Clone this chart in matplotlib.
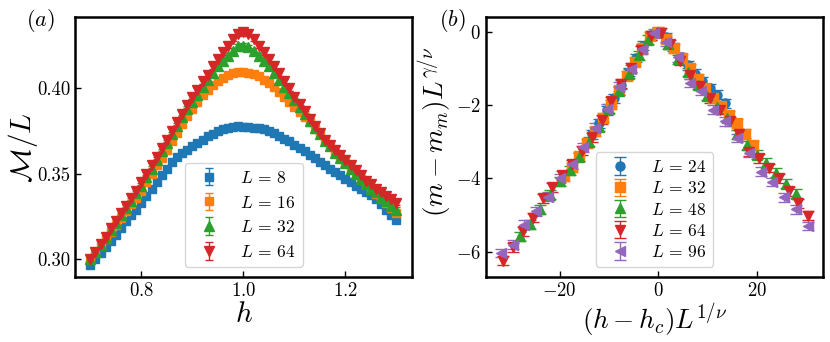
import matplotlib
matplotlib.use("Agg")
import matplotlib.pyplot as plt

plt.rcParams["font.family"] = "serif"
plt.rcParams["font.serif"] = ["cmr10", "DejaVu Serif"]
plt.rcParams["mathtext.fontset"] = "cm"
plt.rcParams["axes.formatter.use_mathtext"] = True
plt.rcParams["axes.unicode_minus"] = True

# ---------------- panel (a): M/L vs h ----------------
h = [0.70, 0.71, 0.72, 0.73, 0.74, 0.75, 0.76, 0.77, 0.78, 0.79,
     0.80, 0.81, 0.82, 0.83, 0.84, 0.85, 0.86, 0.87, 0.88, 0.89,
     0.90, 0.91, 0.92, 0.93, 0.94, 0.95, 0.96, 0.97, 0.98, 0.99,
     1.00, 1.01, 1.02, 1.03, 1.04, 1.05, 1.06, 1.07, 1.08, 1.09,
     1.10, 1.11, 1.12, 1.13, 1.14, 1.15, 1.16, 1.17, 1.18, 1.19,
     1.20, 1.21, 1.22, 1.23, 1.24, 1.25, 1.26, 1.27, 1.28, 1.29, 1.30]

m_L8 = [0.2965, 0.300, 0.3035, 0.307, 0.3105, 0.314, 0.318, 0.322, 0.3255, 0.329,
        0.333, 0.337, 0.341, 0.345, 0.349, 0.353, 0.357, 0.360, 0.362, 0.364,
        0.366, 0.368, 0.370, 0.372, 0.3735, 0.375, 0.376, 0.377, 0.3775, 0.378,
        0.3775, 0.3775, 0.377, 0.3765, 0.376, 0.375, 0.374, 0.372, 0.3705, 0.369,
        0.367, 0.365, 0.363, 0.361, 0.359, 0.357, 0.355, 0.353, 0.351, 0.349,
        0.347, 0.345, 0.343, 0.341, 0.3395, 0.3375, 0.335, 0.332, 0.329, 0.326, 0.323]

m_L16 = [0.300, 0.304, 0.308, 0.312, 0.316, 0.320, 0.324, 0.328, 0.332, 0.336,
         0.340, 0.345, 0.350, 0.355, 0.359, 0.364, 0.369, 0.374, 0.379, 0.384,
         0.388, 0.392, 0.396, 0.399, 0.402, 0.404, 0.406, 0.408, 0.409, 0.4095,
         0.4095, 0.409, 0.4085, 0.407, 0.405, 0.403, 0.401, 0.398, 0.395, 0.392,
         0.389, 0.386, 0.383, 0.380, 0.376, 0.373, 0.369, 0.366, 0.362, 0.359,
         0.356, 0.353, 0.350, 0.347, 0.344, 0.341, 0.338, 0.336, 0.333, 0.330, 0.327]

m_L32 = [0.300, 0.304, 0.308, 0.3125, 0.317, 0.321, 0.3255, 0.330, 0.334, 0.3385,
         0.343, 0.348, 0.353, 0.358, 0.363, 0.368, 0.373, 0.378, 0.383, 0.388,
         0.392, 0.396, 0.401, 0.405, 0.409, 0.413, 0.416, 0.419, 0.422, 0.4245,
         0.425, 0.424, 0.422, 0.419, 0.416, 0.413, 0.409, 0.405, 0.401, 0.397,
         0.393, 0.389, 0.385, 0.381, 0.377, 0.373, 0.369, 0.366, 0.362, 0.359,
         0.356, 0.353, 0.350, 0.347, 0.344, 0.341, 0.339, 0.336, 0.334, 0.331, 0.329]

m_L64 = [0.300, 0.304, 0.309, 0.313, 0.318, 0.322, 0.327, 0.331, 0.336, 0.340,
         0.345, 0.350, 0.355, 0.360, 0.365, 0.370, 0.375, 0.380, 0.385, 0.390,
         0.395, 0.399, 0.404, 0.408, 0.413, 0.417, 0.421, 0.425, 0.429, 0.432,
         0.433, 0.432, 0.429, 0.425, 0.421, 0.417, 0.413, 0.409, 0.404, 0.400,
         0.395, 0.391, 0.387, 0.382, 0.378, 0.374, 0.370, 0.367, 0.364, 0.361,
         0.358, 0.355, 0.352, 0.349, 0.346, 0.344, 0.341, 0.339, 0.337, 0.335, 0.333]

err_a = 0.0015

# ---------------- panel (b): data collapse ----------------
x_L24 = [-13.5, -12, -10.5, -9, -7.5, -6, -4.5, -3, -1.5, 0,
         1.5, 3, 4.5, 6, 7.5, 9, 10.5, 12, 13.5]
y_L24 = [-2.8, -2.5, -2.15, -1.82, -1.45, -1.1, -0.72, -0.38, -0.1, -0.02,
         -0.15, -0.42, -0.7, -0.92, -1.15, -1.35, -1.55, -1.72, -1.95]

x_L32 = [-19.2, -17.6, -16, -14.4, -12.8, -11.2, -9.6, -8, -6.4, -4.8, -3.2, -1.6, 0,
         1.6, 3.2, 4.8, 6.4, 8, 9.6, 11.2, 12.8, 14.4, 16, 17.6, 19.2]
y_L32 = [-3.95, -3.7, -3.4, -3.05, -2.72, -2.35, -1.98, -1.6, -1.2, -0.82, -0.45, -0.12, 0.0,
         -0.2, -0.45, -0.72, -1.0, -1.28, -1.55, -1.8, -2.02, -2.28, -2.5, -2.78, -3.1]

x_L48 = [-28, -26, -24, -22, -20, -18, -16, -14, -12, -10, -8, -6, -4, -2, 0,
         2, 4, 6, 8, 10, 12, 14, 16, 18, 20, 22, 24, 26, 28]
y_L48 = [-5.58, -5.25, -4.85, -4.45, -4.08, -3.78, -3.42, -3.0, -2.6, -2.1, -1.62, -1.15, -0.65, -0.22, -0.02,
         -0.35, -0.75, -1.1, -1.45, -1.75, -2.05, -2.35, -2.8, -3.1, -3.36, -3.58, -3.85, -4.15, -4.42]

x_L64 = [-31.5, -29.5, -27.5, -25.5, -23.5, -21.5, -19.5, -17.5, -15.5, -13.5, -11.5, -9.5, -7.5, -5.5, -3.5, -1.5,
         0.5, 2.5, 4.5, 6.5, 8.5, 10.5, 12.5, 14.5, 16.5, 18.5, 20.5, 22.5, 24.5, 26.5, 28.5, 30.5]
y_L64 = [-6.25, -5.88, -5.45, -5.08, -4.55, -4.25, -3.92, -3.62, -3.25, -2.88, -2.4, -1.9, -1.42, -0.98, -0.5, -0.12,
         -0.03, -0.35, -0.8, -1.18, -1.48, -1.82, -2.13, -2.45, -2.8, -3.27, -3.45, -3.72, -4.0, -4.35, -4.68, -5.02]

x_L96 = [-32, -29.6, -27.2, -24.8, -22.4, -20, -17.6, -15.2, -12.8, -10.4, -8, -5.6, -3.2, -0.8,
         1.6, 4, 6.4, 8.8, 11.2, 13.6, 16, 18.4, 20.8, 23.2, 25.6, 28, 30.4]
y_L96 = [-6.04, -5.81, -5.27, -4.9, -4.5, -4.0, -3.62, -3.15, -2.62, -2.1, -1.5, -1.02, -0.48, -0.05,
         -0.28, -0.7, -1.4, -1.62, -2.13, -2.45, -2.9, -3.3, -3.82, -4.1, -4.52, -4.85, -5.3]

err_b = 0.12

fig = plt.figure(figsize=(8.3, 3.42), dpi=100)
ax1 = fig.add_axes([0.0904, 0.1892, 0.4063, 0.7602])
ax2 = fig.add_axes([0.5855, 0.1892, 0.4061, 0.7602])

series_a = [
    (m_L8, "s", 5.5, r"$L\,=\,8$"),
    (m_L16, "s", 5.5, r"$L\,=\,16$"),
    (m_L32, "^", 7, r"$L\,=\,32$"),
    (m_L64, "v", 7, r"$L\,=\,64$"),
]
for i, (vals, mk, ms, lab) in enumerate(series_a):
    ax1.errorbar(h, vals, yerr=err_a, fmt=mk, ms=ms, color="C%d" % i,
                 capsize=3, elinewidth=1, label=lab)

series_b = [
    (x_L24, y_L24, "o", 6.5, r"$L\,=\,24$"),
    (x_L32, y_L32, "s", 6.5, r"$L\,=\,32$"),
    (x_L48, y_L48, "^", 7, r"$L\,=\,48$"),
    (x_L64, y_L64, "v", 7, r"$L\,=\,64$"),
    (x_L96, y_L96, "<", 7, r"$L\,=\,96$"),
]
for i, (xs, ys, mk, ms, lab) in enumerate(series_b):
    ax2.errorbar(xs, ys, yerr=err_b, fmt=mk, ms=ms, color="C%d" % i,
                 capsize=4, elinewidth=1, label=lab)

ax1.set_xlim(0.670, 1.331)
ax1.set_ylim(0.2893, 0.4416)
ax1.set_xticks([0.8, 1.0, 1.2])
ax1.set_yticks([0.30, 0.35, 0.40])
ax1.set_yticklabels(["0.30", "0.35", "0.40"])
ax1.set_xlabel(r"$h$", fontsize=21, labelpad=1)
ax1.set_ylabel(r"$\mathcal{M}/L$", fontsize=21)
ax1.yaxis.set_label_coords(-0.104, 0.5)
ax1.legend(loc="lower center", fontsize=12.5, borderaxespad=0.6)

ax2.set_xlim(-35.0, 33.5)
ax2.set_ylim(-6.70, 0.39)
ax2.set_xticks([-20, 0, 20])
ax2.set_yticks([0, -2, -4, -6])
ax2.set_xlabel(r"$(h-h_c)L^{1/\nu}$", fontsize=19.5, labelpad=1)
ax2.set_ylabel(r"$(m-m_m)L^{\gamma/\nu}$", fontsize=19.5)
ax2.yaxis.set_label_coords(-0.092, 0.56)
ax2.legend(loc="lower center", fontsize=12.5, labelspacing=0.3, borderaxespad=0.6)

for ax in (ax1, ax2):
    ax.tick_params(direction="in", length=4, width=1, labelsize=13.5)
    for sp in ax.spines.values():
        sp.set_linewidth(1.8)

fig.text(0.049, 0.94, r"$(a)$", fontsize=16, ha="center", va="center")
fig.text(0.545, 0.94, r"$(b)$", fontsize=16, ha="center", va="center")

fig.savefig("out.png", dpi=100)
